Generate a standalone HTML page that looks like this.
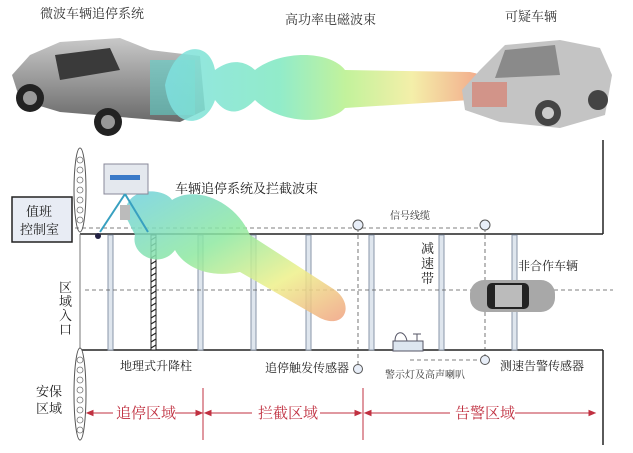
<!DOCTYPE html>
<html><head><meta charset="utf-8"><style>
html,body{margin:0;padding:0;background:#fff}
svg{display:block}
text{font-family:"Liberation Serif","Noto Serif CJK SC",serif}
</style></head><body>
<svg width="633" height="453" viewBox="0 0 633 453" xmlns="http://www.w3.org/2000/svg">
<defs>
<linearGradient id="bm" x1="0" x2="1" y1="0" y2="0">
<stop offset="0" stop-color="#7fe0e0"/><stop offset="0.35" stop-color="#7fe8c0"/><stop offset="0.55" stop-color="#b8f08a"/><stop offset="0.75" stop-color="#f2ec9a"/><stop offset="1" stop-color="#f08a70"/></linearGradient>
<linearGradient id="bm2" x1="0" x2="1" y1="0" y2="1">
<stop offset="0" stop-color="#6fd0e0"/><stop offset="0.4" stop-color="#8ee8a0"/><stop offset="0.7" stop-color="#eef08a"/><stop offset="1" stop-color="#f0a080"/></linearGradient>
<linearGradient id="tr" x1="0" x2="0" y1="0" y2="1"><stop offset="0" stop-color="#c8c8c8"/><stop offset="1" stop-color="#6a6a6a"/></linearGradient>
</defs>
<g font-size="13" fill="#333">
<text x="40" y="18">微波车辆追停系统</text>
<text x="285" y="24">高功率电磁波束</text>
<text x="505" y="21">可疑车辆</text>
</g>
<path d="M12 75 L30 55 L60 42 L120 38 L150 50 L200 56 L205 110 L180 122 L60 112 L20 100Z" fill="url(#tr)"/>
<path d="M55 55 L110 48 L120 70 L60 80Z" fill="#3a3a3a"/>
<circle cx="30" cy="98" r="14" fill="#222"/><circle cx="30" cy="98" r="7" fill="#999"/>
<circle cx="108" cy="122" r="14" fill="#222"/><circle cx="108" cy="122" r="7" fill="#999"/>
<rect x="150" y="60" width="45" height="55" fill="#5fd0c8" opacity="0.6"/>
<path d="M165 85 C175 40,210 40,215 70 C235 55,250 65,255 70 C280 50,330 50,345 70 L470 72 C500 78,505 95,470 100 L345 108 C330 125,280 125,255 100 C245 110,230 120,215 100 C205 130,170 130,165 85Z" fill="url(#bm)" opacity="0.85"/>
<path d="M462 90 L480 70 L505 45 L560 40 L600 48 L612 75 L605 115 L560 128 L500 122 L465 110Z" fill="#c4c4c4"/>
<path d="M505 50 L555 45 L560 75 L495 78Z" fill="#8a8a8a"/>
<circle cx="548" cy="113" r="13" fill="#444"/><circle cx="548" cy="113" r="6" fill="#ccc"/>
<circle cx="598" cy="100" r="10" fill="#444"/>
<rect x="472" y="82" width="35" height="25" fill="#d88070" opacity="0.7"/>
<g stroke="#222" stroke-width="1.5" fill="none">
<line x1="80" y1="234" x2="603" y2="234"/>
<line x1="80" y1="350" x2="603" y2="350"/>
<line x1="603" y1="140" x2="603" y2="234"/>
<line x1="603" y1="350" x2="603" y2="445"/>
<line x1="80" y1="234" x2="80" y2="350" stroke-width="1" stroke="#777"/>
</g>
<g fill="#fff" stroke="#555" stroke-width="1">
<ellipse cx="80" cy="190" rx="6" ry="42"/><ellipse cx="80" cy="394" rx="6" ry="46"/>
</g>
<g fill="none" stroke="#777" stroke-width="0.8">
<circle cx="80" cy="160" r="3"/><circle cx="80" cy="170" r="3"/><circle cx="80" cy="180" r="3"/><circle cx="80" cy="190" r="3"/><circle cx="80" cy="200" r="3"/><circle cx="80" cy="210" r="3"/><circle cx="80" cy="220" r="3"/>
<circle cx="80" cy="360" r="3"/><circle cx="80" cy="370" r="3"/><circle cx="80" cy="380" r="3"/><circle cx="80" cy="390" r="3"/><circle cx="80" cy="400" r="3"/><circle cx="80" cy="410" r="3"/><circle cx="80" cy="420" r="3"/><circle cx="80" cy="430" r="3"/>
</g>
<g fill="#dfe6ee" stroke="#8a96a8" stroke-width="1">
<rect x="108" y="235" width="5" height="115"/><rect x="198" y="235" width="5" height="115"/>
<rect x="251" y="235" width="5" height="115"/><rect x="306" y="235" width="5" height="115"/>
<rect x="369" y="235" width="5" height="115"/><rect x="439" y="235" width="5" height="115"/>
<rect x="512" y="235" width="5" height="115"/>
</g>
<rect x="151" y="235" width="5" height="115" fill="#fff" stroke="#222"/>
<path d="M151 240 l5 -3 M151 246 l5 -3 M151 252 l5 -3 M151 258 l5 -3 M151 264 l5 -3 M151 270 l5 -3 M151 276 l5 -3 M151 282 l5 -3 M151 288 l5 -3 M151 294 l5 -3 M151 300 l5 -3 M151 306 l5 -3 M151 312 l5 -3 M151 318 l5 -3 M151 324 l5 -3 M151 330 l5 -3 M151 336 l5 -3 M151 342 l5 -3 M151 348 l5 -3" stroke="#222" stroke-width="1.2"/>
<g stroke="#555" stroke-width="0.8" stroke-dasharray="4,3" fill="none">
<line x1="68" y1="228" x2="485" y2="228"/>
<line x1="85" y1="290" x2="613" y2="290"/>
<line x1="358" y1="228" x2="358" y2="369"/>
<line x1="485" y1="228" x2="485" y2="360"/>
<line x1="410" y1="360" x2="485" y2="360"/>
</g>
<g fill="#e8eef8" stroke="#555"><circle cx="358" cy="225" r="5"/><circle cx="485" cy="225" r="5"/><circle cx="358" cy="369" r="4.5"/><circle cx="485" cy="360" r="4.5"/></g>
<path d="M125 215 C125 185,165 188,172 200 C195 185,235 200,250 235 L335 290 C355 305,345 330,320 318 L240 272 C200 280,180 260,175 250 C160 270,130 255,135 235Z" fill="url(#bm2)" opacity="0.85"/>
<rect x="104" y="164" width="44" height="30" fill="#e4e8ee" stroke="#889"/>
<rect x="110" y="175" width="30" height="5" fill="#3a7ac8"/>
<line x1="125" y1="194" x2="100" y2="232" stroke="#38a0c0" stroke-width="2"/>
<line x1="125" y1="194" x2="148" y2="232" stroke="#38a0c0" stroke-width="2"/>
<rect x="120" y="205" width="10" height="15" fill="#bbb"/>
<circle cx="98" cy="236" r="3" fill="#224"/>
<rect x="470" y="280" width="85" height="32" rx="14" fill="#a8a8a8"/>
<rect x="487" y="283" width="42" height="26" rx="5" fill="#222"/>
<rect x="495" y="285" width="27" height="22" fill="#bbb"/>
<rect x="393" y="341" width="30" height="10" fill="#dde6f0" stroke="#556"/>
<path d="M395 341 C395 330,405 330,407 341Z" fill="#fff" stroke="#556"/>
<path d="M413 334 h8 M417 334 v7" stroke="#556"/>
<rect x="12" y="197" width="60" height="45" fill="#e8ecf4" stroke="#222" stroke-width="1.5"/>
<g font-size="13" fill="#222">
<text x="26" y="216">值班</text><text x="20" y="234">控制室</text>
<text x="59" y="292">区</text><text x="59" y="306">域</text><text x="59" y="320">入</text><text x="59" y="334">口</text>
<text x="36" y="396">安保</text><text x="36" y="413">区域</text>
<text x="175" y="193">车辆追停系统及拦截波束</text>
<text x="421" y="253">减</text><text x="421" y="268">速</text><text x="421" y="283">带</text>
</g>
<g font-size="12" fill="#222">
<text x="120" y="370">地理式升降柱</text>
<text x="265" y="372">追停触发传感器</text>
<text x="500" y="370">测速告警传感器</text>
<text x="518" y="270">非合作车辆</text>
</g>
<g font-size="10" fill="#333"><text x="390" y="219">信号线缆</text><text x="385" y="378">警示灯及高声喇叭</text></g>
<g stroke="#c03040" stroke-width="1" fill="#c03040">
<line x1="203" y1="388" x2="203" y2="440"/><line x1="363" y1="388" x2="363" y2="440"/>
<line x1="88" y1="413" x2="113" y2="413"/><line x1="175" y1="413" x2="201" y2="413"/>
<line x1="206" y1="413" x2="252" y2="413"/><line x1="320" y1="413" x2="360" y2="413"/>
<line x1="366" y1="413" x2="450" y2="413"/><line x1="515" y1="413" x2="593" y2="413"/>
<path d="M87 413 l6 -2.5 v5Z M202 413 l-6 -2.5 v5Z M205 413 l6 -2.5 v5Z M361 413 l-6 -2.5 v5Z M365 413 l6 -2.5 v5Z M595 413 l-6 -2.5 v5Z"/>
</g>
<g font-size="15" fill="#c03040">
<text x="116" y="418">追停区域</text><text x="258" y="418">拦截区域</text><text x="455" y="418">告警区域</text>
</g>
</svg>
</body></html>
